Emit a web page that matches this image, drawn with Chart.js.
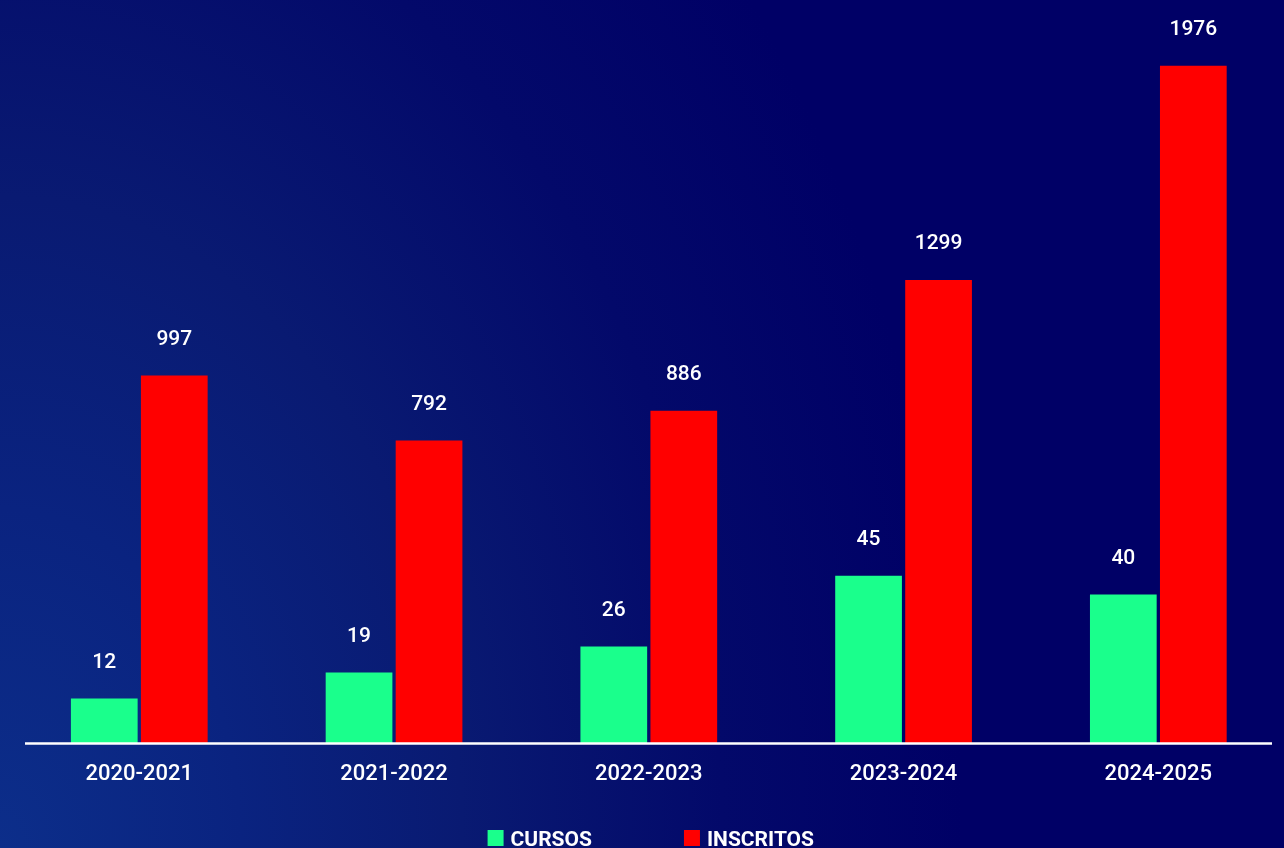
<!DOCTYPE html>
<html>
<head>
<meta charset="utf-8">
<script src="https://cdn.jsdelivr.net/npm/chart.js@4.4.1/dist/chart.umd.min.js"></script>
<style>
  html, body { margin: 0; padding: 0; width: 1284px; height: 848px; overflow: hidden; }
  body {
    background: radial-gradient(ellipse 75% 160% at 0% 100%, #0c2e8a 0%, #0a2380 25%, #091a72 48%, #03096a 75%, #000066 100%);
  }
  #wrap { position: absolute; left: 0; top: 0; width: 1300px; height: 848px; }
</style>
</head>
<body>
<div id="wrap"><canvas id="c"></canvas></div>
<script>
const categories = ['2020-2021', '2021-2022', '2022-2023', '2023-2024', '2024-2025'];
const cursos = [12, 19, 26, 45, 40];
const inscritos = [997, 792, 886, 1299, 1976];
const seriesNames = ['CURSOS', 'INSCRITOS'];
const seriesColors = ['#1aff8c', '#ff0000'];

const valueLabels = {
  id: 'valueLabels',
  afterDatasetsDraw(chart) {
    const ctx = chart.ctx;
    ctx.save();
    ctx.fillStyle = '#ffffff';
    ctx.font = '500 21px Roboto';
    ctx.textAlign = 'center';
    ctx.textBaseline = 'middle';
    chart.data.datasets.forEach((ds, di) => {
      const meta = chart.getDatasetMeta(di);
      meta.data.forEach((bar, i) => {
        ctx.fillText(String(ds.data[i]), bar.x, bar.y - 36);
      });
    });
    ctx.restore();
  }
};

const axisLine = {
  id: 'axisLine',
  afterDatasetsDraw(chart) {
    const ctx = chart.ctx;
    const y = chart.scales.x.top;
    ctx.save();
    ctx.strokeStyle = '#ffffff';
    ctx.lineWidth = 2.5;
    ctx.beginPath();
    ctx.moveTo(25, y + 0.5);
    ctx.lineTo(1272, y + 0.5);
    ctx.stroke();
    ctx.restore();
  }
};

const bottomLegend = {
  id: 'bottomLegend',
  afterDraw(chart) {
    const ctx = chart.ctx;
    ctx.save();
    ctx.font = 'bold 21px Roboto';
    const box = 16, gapText = 7, gapItem = 92;
    const items = chart.data.datasets.map(ds => ({
      text: ds.label, color: ds.backgroundColor, w: box + gapText + ctx.measureText(ds.label).width
    }));
    const total = items.reduce((s, it) => s + it.w, 0) + gapItem * (items.length - 1);
    const a = chart.chartArea;
    let x = (a.left + a.right) / 2 - total / 2 + 2;
    const yTop = 830;
    ctx.textBaseline = 'alphabetic';
    ctx.textAlign = 'left';
    items.forEach(it => {
      ctx.fillStyle = it.color;
      ctx.fillRect(x, yTop, box, box);
      ctx.fillStyle = '#ffffff';
      ctx.fillText(it.text, x + box + gapText, yTop + 16);
      x += it.w + gapItem;
    });
    ctx.restore();
  }
};

new Chart(document.getElementById('c'), {
  type: 'bar',
  data: {
    labels: categories,
    datasets: [
      { label: seriesNames[0], data: cursos, backgroundColor: seriesColors[0], yAxisID: 'y',
        barPercentage: 0.953, categoryPercentage: 0.5496 },
      { label: seriesNames[1], data: inscritos, backgroundColor: seriesColors[1], yAxisID: 'y2',
        base: -164, barPercentage: 0.953, categoryPercentage: 0.5496 }
    ]
  },
  options: {
    responsive: true,
    maintainAspectRatio: false,
    animation: false,
    layout: { padding: { left: 11.9, right: 14.3, top: 0, bottom: 42.6 } },
    plugins: { legend: { display: false }, tooltip: { enabled: false } },
    scales: {
      x: {
        grid: { display: false, drawTicks: false },
        border: { display: false },
        ticks: { color: '#ffffff', font: { family: 'Roboto', size: 22, weight: '500' }, padding: 18 }
      },
      y: { display: false, min: 0, max: 200 },
      y2: { display: false, min: -164, max: 2184 }
    }
  },
  plugins: [valueLabels, axisLine, bottomLegend]
});
</script>
</body>
</html>
